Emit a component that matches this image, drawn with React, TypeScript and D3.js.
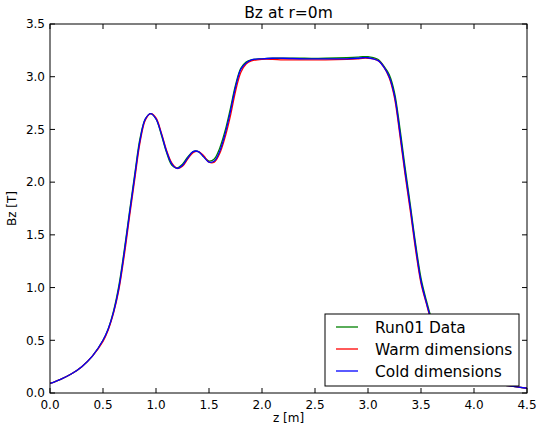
import React from "react";
import * as d3 from "d3";

// z positions along the axis [m]
const zPos = [0, 0.1, 0.2, 0.3, 0.4, 0.5, 0.55, 0.6, 0.65, 0.7, 0.75, 0.8, 0.85, 0.9, 0.95, 1.0, 1.05, 1.1, 1.15, 1.2, 1.25, 1.3, 1.35, 1.4, 1.45, 1.5, 1.55, 1.6, 1.65, 1.7, 1.75, 1.8, 1.85, 1.9, 2.0, 2.1, 2.2, 2.4, 2.6, 2.8, 2.9, 2.95, 3.0, 3.05, 3.1, 3.15, 3.2, 3.25, 3.3, 3.35, 3.4, 3.45, 3.5, 3.55, 3.6, 3.65, 3.7, 3.8, 3.9, 4.0, 4.2, 4.5];

const run01 = [0.09, 0.13, 0.18, 0.25, 0.35, 0.5, 0.61, 0.78, 1.02, 1.35, 1.72, 2.08, 2.42, 2.6, 2.65, 2.6, 2.45, 2.28, 2.16, 2.135, 2.17, 2.24, 2.29, 2.29, 2.24, 2.2, 2.22, 2.32, 2.48, 2.69, 2.92, 3.08, 3.14, 3.16, 3.17, 3.175, 3.175, 3.175, 3.175, 3.18, 3.185, 3.19, 3.19, 3.18, 3.16, 3.1, 3.02, 2.85, 2.52, 2.14, 1.78, 1.41, 1.09, 0.88, 0.7, 0.55, 0.44, 0.29, 0.2, 0.14, 0.09, 0.045];
const warm = [0.09, 0.13, 0.18, 0.25, 0.35, 0.49, 0.6, 0.76, 0.98, 1.3, 1.67, 2.03, 2.38, 2.59, 2.65, 2.61, 2.47, 2.3, 2.18, 2.13, 2.15, 2.22, 2.28, 2.29, 2.25, 2.19, 2.19, 2.27, 2.42, 2.62, 2.86, 3.04, 3.12, 3.15, 3.165, 3.165, 3.16, 3.16, 3.16, 3.165, 3.17, 3.175, 3.175, 3.17, 3.15, 3.09, 2.99, 2.8, 2.45, 2.07, 1.72, 1.35, 1.04, 0.85, 0.67, 0.53, 0.42, 0.28, 0.19, 0.14, 0.09, 0.045];
const cold = [0.09, 0.13, 0.18, 0.25, 0.35, 0.5, 0.61, 0.77, 1.0, 1.33, 1.7, 2.06, 2.4, 2.6, 2.65, 2.6, 2.46, 2.29, 2.17, 2.13, 2.16, 2.23, 2.29, 2.29, 2.24, 2.19, 2.2, 2.29, 2.45, 2.66, 2.9, 3.07, 3.13, 3.16, 3.17, 3.175, 3.175, 3.17, 3.17, 3.17, 3.175, 3.18, 3.18, 3.17, 3.15, 3.09, 3.0, 2.82, 2.48, 2.1, 1.75, 1.38, 1.06, 0.86, 0.68, 0.54, 0.43, 0.28, 0.19, 0.14, 0.09, 0.045];

const seriesNames = ["Run01 Data", "Warm dimensions", "Cold dimensions"];
const seriesColors = ["#008000", "#ff0000", "#0000ff"];
const xTicks = [0, 0.5, 1, 1.5, 2, 2.5, 3, 3.5, 4, 4.5];
const yTicks = [0, 0.5, 1, 1.5, 2, 2.5, 3, 3.5];

const W = 540, H = 428;
const left = 50, right = 527, top = 24, bottom = 393;
const font = "DejaVu Sans";

const App = () => {
  const x = d3.scaleLinear().domain([0, 4.5]).range([left, right]);
  const y = d3.scaleLinear().domain([0, 3.5]).range([bottom, top]);
  const line = d3
    .line<number>()
    .x((_, i) => x(zPos[i]))
    .y(d => y(d))
    .curve(d3.curveCatmullRom.alpha(0.5));
  const all = [run01, warm, cold];

  return (
    <svg width={W} height={H} style={{ position: "absolute", left: 0, top: 0 }}>
      <rect width={W} height={H} fill="white" />
      <defs>
        <clipPath id="plot">
          <rect x={left} y={top} width={right - left} height={bottom - top} />
        </clipPath>
      </defs>
      <g clipPath="url(#plot)">
        {all.map((s, i) => (
          <path key={i} d={line(s) || ""} fill="none" stroke={seriesColors[i]} strokeWidth={1.3} />
        ))}
      </g>
      {/* ticks inside on all sides */}
      {xTicks.map(t => (
        <g key={"x" + t}>
          <line x1={x(t)} x2={x(t)} y1={bottom} y2={bottom - 5} stroke="black" />
          <line x1={x(t)} x2={x(t)} y1={top} y2={top + 5} stroke="black" />
          <text x={x(t)} y={bottom + 15.5} textAnchor="middle" fontFamily={font} fontSize={12}>
            {d3.format(".1f")(t)}
          </text>
        </g>
      ))}
      {yTicks.map(t => (
        <g key={"y" + t}>
          <line x1={left} x2={left + 5} y1={y(t)} y2={y(t)} stroke="black" />
          <line x1={right} x2={right - 5} y1={y(t)} y2={y(t)} stroke="black" />
          <text x={left - 5} y={y(t) + 4.3} textAnchor="end" fontFamily={font} fontSize={12}>
            {d3.format(".1f")(t)}
          </text>
        </g>
      ))}
      <rect x={left} y={top} width={right - left} height={bottom - top} fill="none" stroke="black" strokeWidth={1} />
      <text x={(left + right) / 2} y={18} textAnchor="middle" fontFamily={font} fontSize={15.5}>
        Bz at r=0m
      </text>
      <text x={(left + right) / 2} y={422} textAnchor="middle" fontFamily={font} fontSize={12}>
        z [m]
      </text>
      <text transform={`translate(16 ${(top + bottom) / 2}) rotate(-90)`} textAnchor="middle" fontFamily={font} fontSize={12}>
        Bz [T]
      </text>
      <g>
        <rect x={325} y={314} width={194} height={72} fill="white" stroke="black" strokeWidth={1} />
        {seriesNames.map((n, i) => (
          <g key={n}>
            <line x1={336} x2={358} y1={327 + i * 22} y2={327 + i * 22} stroke={seriesColors[i]} strokeWidth={1.3} />
            <text x={375} y={327 + i * 22 + 5.5} fontFamily={font} fontSize={15.4}>
              {n}
            </text>
          </g>
        ))}
      </g>
    </svg>
  );
};

export default App;
